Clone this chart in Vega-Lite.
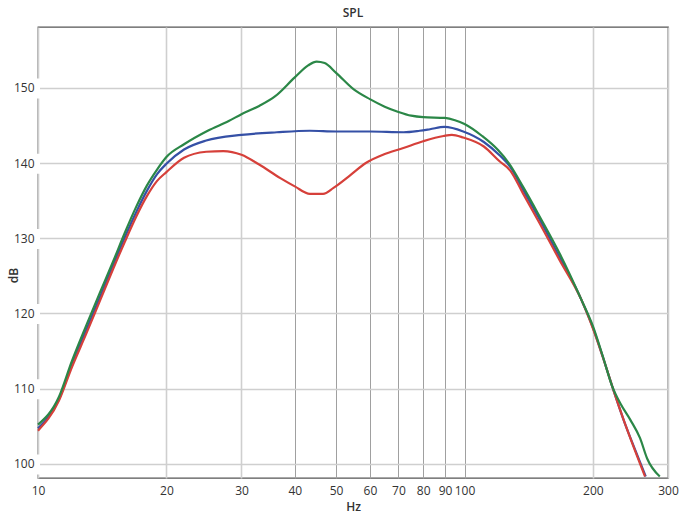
{
  "$schema": "https://vega.github.io/schema/vega-lite/v6.json",
  "width": 630,
  "height": 451,
  "autosize": {"type": "none"},
  "padding": {"left": 38, "top": 27, "right": 14, "bottom": 35},
  "background": "white",
  "title": {"text": "SPL", "fontSize": 12, "font": "Open Sans", "fontWeight": 600, "color": "#333", "offset": 7},
  "config": {
    "view": {"stroke": "#555", "strokeWidth": 1.3},
    "font": "Open Sans",
    "axis": {"labelFont": "Open Sans", "titleFont": "Open Sans", "labelColor": "#333", "titleColor": "#333", "labelFontSize": 12, "titleFontSize": 12, "titleFontWeight": 600, "ticks": false, "tickSize": 0}
  },
  "datasets": {
    "spl": [
      {"series": "mid", "f": 10, "db": 104.7},
      {"series": "mid", "f": 11.2, "db": 108.6},
      {"series": "mid", "f": 12, "db": 113.2},
      {"series": "mid", "f": 13, "db": 117.9},
      {"series": "mid", "f": 14, "db": 122.3},
      {"series": "mid", "f": 15, "db": 126.4},
      {"series": "mid", "f": 16, "db": 130.2},
      {"series": "mid", "f": 17, "db": 133.5},
      {"series": "mid", "f": 18, "db": 136.3},
      {"series": "mid", "f": 19, "db": 138.5},
      {"series": "mid", "f": 20, "db": 139.9},
      {"series": "mid", "f": 22, "db": 141.8},
      {"series": "mid", "f": 24.8, "db": 143.0},
      {"series": "mid", "f": 30, "db": 143.75},
      {"series": "mid", "f": 36.3, "db": 144.1},
      {"series": "mid", "f": 43.4, "db": 144.3},
      {"series": "mid", "f": 50, "db": 144.2},
      {"series": "mid", "f": 60, "db": 144.2},
      {"series": "mid", "f": 72, "db": 144.1},
      {"series": "mid", "f": 78.5, "db": 144.3},
      {"series": "mid", "f": 83, "db": 144.5},
      {"series": "mid", "f": 89.7, "db": 144.8},
      {"series": "mid", "f": 99.3, "db": 144.2},
      {"series": "mid", "f": 111, "db": 142.8},
      {"series": "mid", "f": 121, "db": 141.0},
      {"series": "mid", "f": 128, "db": 139.5},
      {"series": "mid", "f": 137, "db": 136.5},
      {"series": "mid", "f": 150, "db": 132.5},
      {"series": "mid", "f": 167, "db": 127.5},
      {"series": "mid", "f": 188, "db": 121.8},
      {"series": "mid", "f": 200, "db": 118.1},
      {"series": "mid", "f": 211, "db": 114.2},
      {"series": "mid", "f": 222, "db": 110.3},
      {"series": "mid", "f": 239, "db": 105.0},
      {"series": "mid", "f": 247, "db": 102.9},
      {"series": "mid", "f": 266, "db": 98.3},

      {"series": "low", "f": 10, "db": 104.4},
      {"series": "low", "f": 11.2, "db": 108.4},
      {"series": "low", "f": 12, "db": 112.8},
      {"series": "low", "f": 13, "db": 117.4},
      {"series": "low", "f": 14, "db": 121.8},
      {"series": "low", "f": 15, "db": 125.9},
      {"series": "low", "f": 16, "db": 129.6},
      {"series": "low", "f": 17, "db": 132.9},
      {"series": "low", "f": 18, "db": 135.6},
      {"series": "low", "f": 19, "db": 137.6},
      {"series": "low", "f": 20, "db": 138.8},
      {"series": "low", "f": 22, "db": 140.7},
      {"series": "low", "f": 24.8, "db": 141.5},
      {"series": "low", "f": 27.2, "db": 141.6},
      {"series": "low", "f": 30, "db": 141.1},
      {"series": "low", "f": 33, "db": 139.8},
      {"series": "low", "f": 37, "db": 138.0},
      {"series": "low", "f": 40, "db": 136.9},
      {"series": "low", "f": 43.4, "db": 135.9},
      {"series": "low", "f": 46.6, "db": 135.9},
      {"series": "low", "f": 49.3, "db": 136.7},
      {"series": "low", "f": 54, "db": 138.4},
      {"series": "low", "f": 58.7, "db": 140.0},
      {"series": "low", "f": 64.4, "db": 141.1},
      {"series": "low", "f": 71.9, "db": 142.0},
      {"series": "low", "f": 80, "db": 142.9},
      {"series": "low", "f": 89.3, "db": 143.6},
      {"series": "low", "f": 93.4, "db": 143.75},
      {"series": "low", "f": 99.3, "db": 143.4},
      {"series": "low", "f": 111, "db": 142.2},
      {"series": "low", "f": 121, "db": 140.2},
      {"series": "low", "f": 128, "db": 139.0},
      {"series": "low", "f": 137, "db": 136.0},
      {"series": "low", "f": 150, "db": 132.0},
      {"series": "low", "f": 167, "db": 127.1},
      {"series": "low", "f": 188, "db": 121.8},
      {"series": "low", "f": 200, "db": 118.0},
      {"series": "low", "f": 211, "db": 114.2},
      {"series": "low", "f": 222, "db": 110.3},
      {"series": "low", "f": 239, "db": 105.0},
      {"series": "low", "f": 247, "db": 102.8},
      {"series": "low", "f": 265, "db": 98.3},

      {"series": "high", "f": 10, "db": 105.2},
      {"series": "high", "f": 11.2, "db": 108.9},
      {"series": "high", "f": 12, "db": 113.6},
      {"series": "high", "f": 13, "db": 118.5},
      {"series": "high", "f": 14, "db": 122.9},
      {"series": "high", "f": 15, "db": 126.9},
      {"series": "high", "f": 16, "db": 130.8},
      {"series": "high", "f": 17, "db": 134.2},
      {"series": "high", "f": 18, "db": 137.0},
      {"series": "high", "f": 19, "db": 139.1},
      {"series": "high", "f": 20, "db": 140.8},
      {"series": "high", "f": 22, "db": 142.5},
      {"series": "high", "f": 25, "db": 144.3},
      {"series": "high", "f": 28, "db": 145.6},
      {"series": "high", "f": 30, "db": 146.5},
      {"series": "high", "f": 33, "db": 147.6},
      {"series": "high", "f": 36, "db": 148.9},
      {"series": "high", "f": 40, "db": 151.4},
      {"series": "high", "f": 43, "db": 153.0},
      {"series": "high", "f": 45, "db": 153.5},
      {"series": "high", "f": 47, "db": 153.3},
      {"series": "high", "f": 50, "db": 152.0},
      {"series": "high", "f": 55, "db": 149.8},
      {"series": "high", "f": 60, "db": 148.5},
      {"series": "high", "f": 65, "db": 147.5},
      {"series": "high", "f": 70, "db": 146.8},
      {"series": "high", "f": 75, "db": 146.3},
      {"series": "high", "f": 80, "db": 146.1},
      {"series": "high", "f": 90, "db": 146.0},
      {"series": "high", "f": 95, "db": 145.7},
      {"series": "high", "f": 100, "db": 145.2},
      {"series": "high", "f": 110, "db": 143.6},
      {"series": "high", "f": 120, "db": 141.7},
      {"series": "high", "f": 127, "db": 140.0},
      {"series": "high", "f": 137, "db": 136.9},
      {"series": "high", "f": 150, "db": 132.9},
      {"series": "high", "f": 167, "db": 128.0},
      {"series": "high", "f": 188, "db": 121.8},
      {"series": "high", "f": 200, "db": 118.3},
      {"series": "high", "f": 211, "db": 114.3},
      {"series": "high", "f": 222, "db": 110.3},
      {"series": "high", "f": 232, "db": 108.0},
      {"series": "high", "f": 245, "db": 105.8},
      {"series": "high", "f": 258, "db": 103.4},
      {"series": "high", "f": 268, "db": 100.7},
      {"series": "high", "f": 287, "db": 98.3}
    ]
  },
  "data": {"name": "spl"},
  "encoding": {
    "x": {
      "field": "f", "type": "quantitative",
      "scale": {"type": "log", "domain": [10, 300], "nice": false},
      "axis": {
        "title": "Hz", "titlePadding": 5,
        "values": [10, 20, 30, 40, 50, 60, 70, 80, 90, 100, 200, 300],
        "labelPadding": 7, "labelFlush": false,
        "domain": false,
        "grid": true,
        "gridColor": {"condition": {"test": "datum.value >= 40 && datum.value <= 100", "value": "#a0a0a0"}, "value": "#cfcfcf"},
        "gridWidth": {"condition": {"test": "datum.value >= 40 && datum.value <= 100", "value": 1}, "value": 1.6}
      }
    },
    "y": {
      "field": "db", "type": "quantitative",
      "scale": {"domain": [98.1, 158.1], "nice": false, "zero": false},
      "axis": {
        "title": "dB", "titleX": -18, "titleY": 248, "titleBaseline": "bottom", "titleAngle": 270,
        "values": [100, 110, 120, 130, 140, 150],
        "labelPadding": 4,
        "domain": true, "domainColor": "white", "domainWidth": 3,
        "domainDash": [20, 55.2], "domainDashOffset": 71.2,
        "grid": true, "gridColor": "#cfcfcf", "gridWidth": 1.6
      }
    }
  },
  "layer": [
    {
      "transform": [{"filter": "datum.series === 'mid'"}],
      "mark": {"type": "line", "interpolate": "monotone", "color": "#3550a6", "strokeWidth": 2.2}
    },
    {
      "transform": [{"filter": "datum.series === 'low'"}],
      "mark": {"type": "line", "interpolate": "monotone", "color": "#d6403a", "strokeWidth": 2.2}
    },
    {
      "transform": [{"filter": "datum.series === 'high'"}],
      "mark": {"type": "line", "interpolate": "monotone", "color": "#2b8747", "strokeWidth": 2.2}
    }
  ]
}
